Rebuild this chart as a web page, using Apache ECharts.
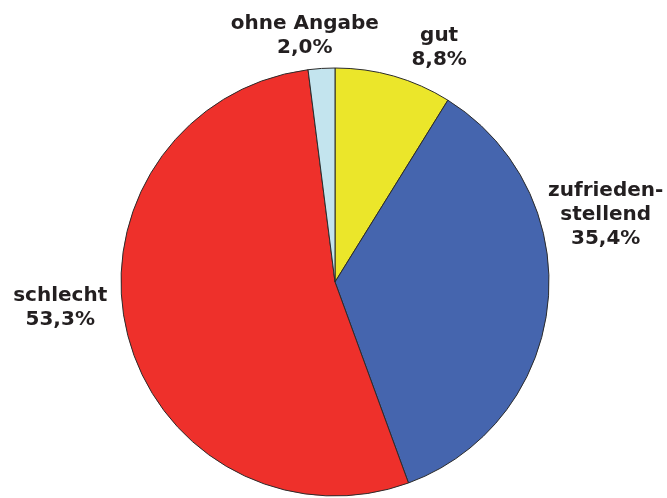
<!DOCTYPE html>
<html>
<head>
<meta charset="utf-8">
<script src="https://cdn.jsdelivr.net/npm/echarts@6/dist/echarts.min.js"></script>
<style>
  html, body { margin: 0; padding: 0; background: #fff; }
  #chart { width: 667px; height: 498px; }
</style>
</head>
<body>
<div id="chart"></div>
<script>
// clockwise from 12 o'clock
const categories = ['gut', 'zufrieden-\nstellend', 'schlecht', 'ohne Angabe']
const shares = [8.8, 35.4, 53.3, 2.0]
const colors = ['#ebe62a', '#4565ae', '#ee302b', '#c3e4ee']

// label spots as [angle from top, clockwise, deg; distance from centre, px]
const labelSpots = [[24, 256], [76, 279], [264.6, 276], [-7, 248]]

const CENTER = [335, 282]
const RADIUS = 214

const chart = echarts.init(document.getElementById('chart'))

chart.setOption({
  animation: false,
  series: [{
    type: 'pie',
    center: CENTER,
    radius: RADIUS,
    startAngle: 90,
    clockwise: true,
    avoidLabelOverlap: false,
    itemStyle: {
      borderColor: '#2b2b2b',
      borderWidth: 1
    },
    label: {
      show: true,
      position: 'outside',
      overflow: 'none',
      edgeDistance: 0,
      bleedMargin: 0,
      fontFamily: 'DejaVu Sans',
      fontWeight: 'bold',
      fontSize: 20,
      lineHeight: 24,
      color: '#231f20',
      align: 'center',
      formatter: p => p.name + '\n' + p.value.toFixed(1).replace('.', ',') + '%'
    },
    labelLine: { show: false },
    labelLayout: params => {
      const [deg, dist] = labelSpots[params.dataIndex]
      const a = deg * Math.PI / 180
      return {
        x: CENTER[0] + dist * Math.sin(a),
        y: CENTER[1] - dist * Math.cos(a),
        align: 'center',
        verticalAlign: 'middle'
      }
    },
    emphasis: { disabled: true },
    data: categories.map((name, i) => ({
      name: name,
      value: shares[i],
      itemStyle: { color: colors[i] }
    }))
  }]
})
</script>
</body>
</html>
